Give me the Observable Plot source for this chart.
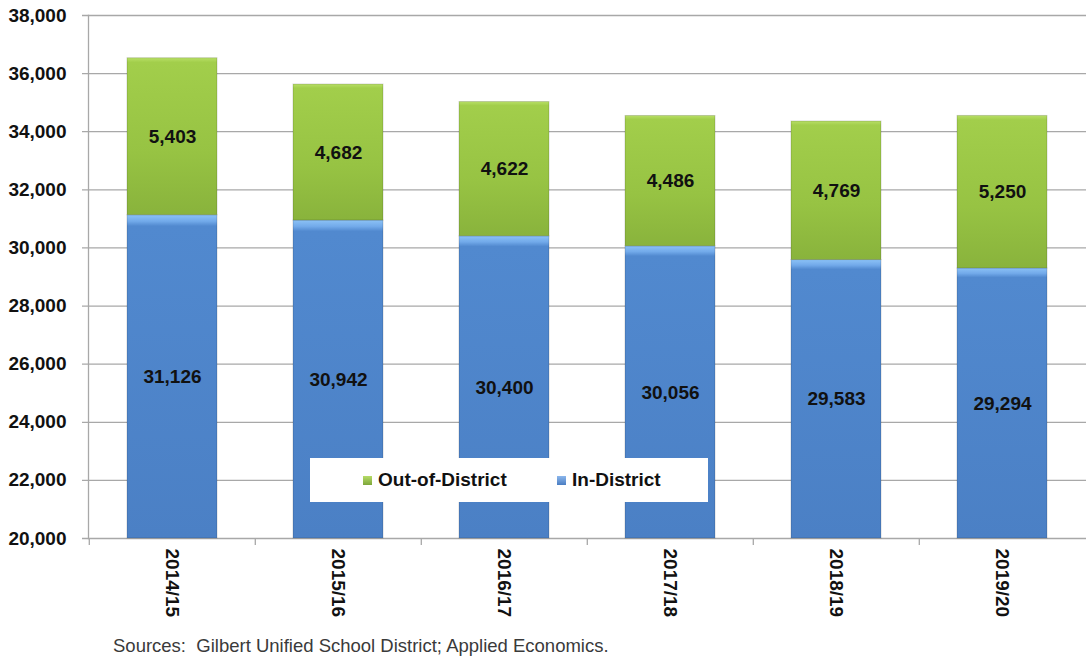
<!DOCTYPE html>
<html><head><meta charset="utf-8">
<script src="https://cdn.jsdelivr.net/npm/d3@7"></script>
<script src="https://cdn.jsdelivr.net/npm/@observablehq/plot@0.6"></script>
<style>
body{margin:0;background:#fff;font-family:"Liberation Sans",Arial,sans-serif;}
#wrap{position:relative;width:1086px;height:660px;overflow:hidden;}
#legend{position:absolute;left:310px;top:458px;width:398px;height:44px;background:#fff;}
.li{position:absolute;top:0;height:44px;line-height:44px;font-weight:bold;font-size:19px;color:#111;}
.sw{position:absolute;width:9px;height:9px;top:18px;}
#source{position:absolute;left:113px;top:635px;font-size:18.5px;color:#3a3a3a;white-space:pre;}
</style></head><body><div id="wrap"></div>
<script>
const years = ["2014/15","2015/16","2016/17","2017/18","2018/19","2019/20"];
const inDistrict = [31126,30942,30400,30056,29583,29294];
const outDistrict = [5403,4682,4622,4486,4769,5250];
const series = ["In-District","Out-of-District"];
const yTicks = [20000,22000,24000,26000,28000,30000,32000,34000,36000,38000];
const yDomain = [20000,38000];
const sourceText = "Sources:  Gilbert Unified School District; Applied Economics.";

const fmt = d3.format(",");
const rows = years.flatMap((yr,i)=>[
  {year:yr,type:series[0],y1:yDomain[0],y2:inDistrict[i]},
  {year:yr,type:series[1],y1:inDistrict[i],y2:inDistrict[i]+outDistrict[i]}
]);
const labels = years.flatMap((yr,i)=>[
  {year:yr,y:(yDomain[0]+inDistrict[i])/2,text:fmt(inDistrict[i])},
  {year:yr,y:inDistrict[i]+outDistrict[i]/2,text:fmt(outDistrict[i])}
]);

const plot = Plot.plot({
  width:1086, height:636,
  marginLeft:88, marginRight:0, marginTop:15, marginBottom:98,
  style:{fontFamily:'"Liberation Sans",Arial,sans-serif', fontSize:"19px", fontWeight:"bold", color:"#111", background:"white", overflow:"visible"},
  x:{domain:years, paddingInner:0.46, paddingOuter:0.23, axis:null},
  y:{domain:yDomain, axis:null},
  color:{domain:series, range:["url(#gradBlue)","url(#gradGreen)"]},
  marks:[
    Plot.ruleY(yTicks,{stroke:"#a8a8a8", strokeWidth:1.3, insetLeft:-6}),
    Plot.frame({anchor:"left", stroke:"#a8a8a8", strokeWidth:1.3}),
    Plot.ruleX(years,{x:d=>d, y1:yDomain[0], y2:yDomain[0], dx:-83.2, insetBottom:-7, stroke:"#a8a8a8", strokeWidth:1.3}),
    Plot.barY(rows,{x:"year", y1:"y1", y2:"y2", fill:"type", stroke:"rgba(0,0,0,0.16)", strokeWidth:1}),
    Plot.text(labels,{x:"year", y:"y", text:"text", fontSize:19, fontWeight:"bold", fill:"#111"}),
    Plot.text(yTicks,{y:d=>d, frameAnchor:"left", text:d=>fmt(d), textAnchor:"end", dx:-22, fontSize:19, fontWeight:"bold", fill:"#111"}),
    Plot.text(years,{x:d=>d, frameAnchor:"bottom", text:d=>d, rotate:90, textAnchor:"start", lineAnchor:"middle", dy:10, fontSize:19, fontWeight:"bold", fill:"#111"})
  ]
});

const defs = d3.select(plot).insert("defs",":first-child");
function grad(id, stops){
  const g = defs.append("linearGradient").attr("id",id).attr("x1",0).attr("y1",0).attr("x2",0).attr("y2",1);
  stops.forEach(([o,c])=>g.append("stop").attr("offset",o).attr("stop-color",c));
}
grad("gradGreen",[["0%","#b8df66"],["3%","#a2ce4b"],["60%","#97c343"],["100%","#89b33c"]]);
grad("gradBlue",[["0%","#8cc2f6"],["2%","#72aaea"],["3.5%","#5189cf"],["100%","#4b80c5"]]);

const wrap = document.getElementById("wrap");
wrap.appendChild(plot);

const legend = document.createElement("div");
legend.id = "legend";
const items = [
  {name:series[1], sw:"linear-gradient(#b6dc68,#7da63a)", sx:53, tx:68},
  {name:series[0], sw:"linear-gradient(#8cb7ec,#4a7dc2)", sx:247, tx:262}
];
items.forEach(it=>{
  const s = document.createElement("div"); s.className="sw"; s.style.left=it.sx+"px"; s.style.background=it.sw; legend.appendChild(s);
  const t = document.createElement("div"); t.className="li"; t.style.left=it.tx+"px"; t.textContent=it.name; legend.appendChild(t);
});
wrap.appendChild(legend);

const src = document.createElement("div");
src.id = "source"; src.textContent = sourceText;
wrap.appendChild(src);
</script>
</body></html>
